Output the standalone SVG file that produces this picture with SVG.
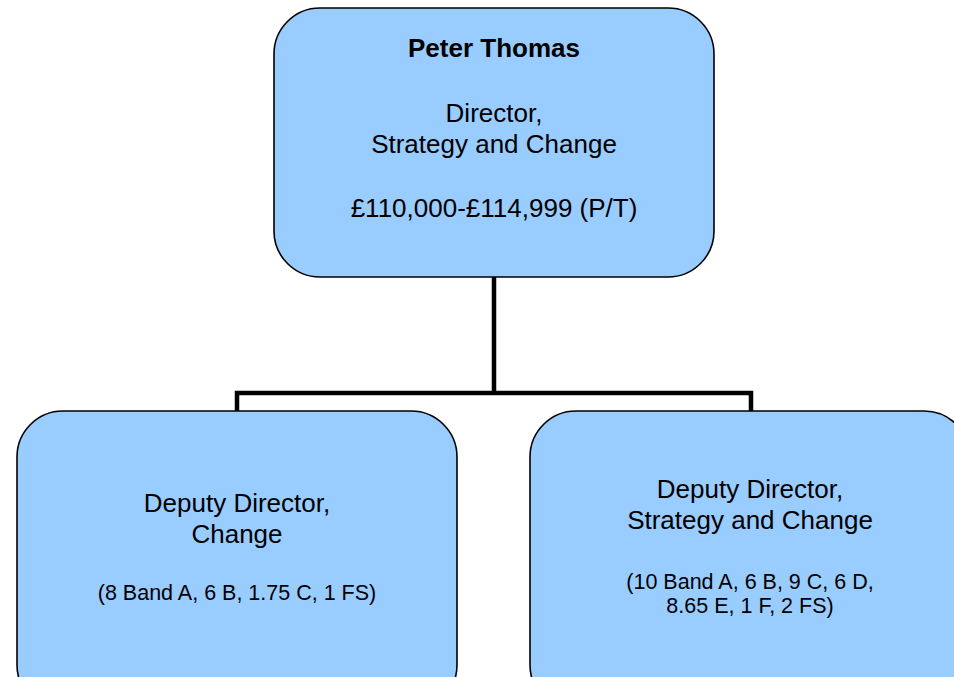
<svg xmlns="http://www.w3.org/2000/svg" width="954" height="677" viewBox="0 0 954 677">
  <style>
    .box { fill: #99CCFF; stroke: #000000; stroke-width: 1.6; }
    .t { font-family: "Liberation Sans", Arial, sans-serif; font-size: 26px; fill: #000000; text-anchor: middle; }
    .b { font-weight: bold; }
    .s { font-size: 21.5px; }
    .link { fill: none; stroke: #000000; stroke-width: 4.5; stroke-linejoin: miter; }
  </style>
  <rect width="954" height="677" fill="#ffffff"/>

  <!-- reporting lines -->
  <g id="connectors">
    <path class="link" d="M494 277 V393 M237 411 V393 H751 V411"/>
  </g>

  <!-- director -->
  <g id="director">
    <rect class="box" x="274" y="8" width="440" height="269" rx="46" ry="46"/>
    <text class="t b" x="494" y="57">Peter Thomas</text>
    <text class="t" x="494" y="122">Director,</text>
    <text class="t" x="494" y="153">Strategy and Change</text>
    <text class="t" x="494" y="217">£110,000-£114,999 (P/T)</text>
  </g>

  <!-- deputy director, change -->
  <g id="deputy-change">
    <rect class="box" x="17" y="411" width="440" height="300" rx="46" ry="46"/>
    <text class="t" x="237" y="512">Deputy Director,</text>
    <text class="t" x="237" y="543">Change</text>
    <text class="t s" x="237" y="600">(8 Band A, 6 B, 1.75 C, 1 FS)</text>
  </g>

  <!-- deputy director, strategy and change -->
  <g id="deputy-strategy">
    <rect class="box" x="530" y="411" width="440" height="300" rx="46" ry="46"/>
    <text class="t" x="750" y="498">Deputy Director,</text>
    <text class="t" x="750" y="529">Strategy and Change</text>
    <text class="t s" x="750" y="589">(10 Band A, 6 B, 9 C, 6 D,</text>
    <text class="t s" x="750" y="613">8.65 E, 1 F, 2 FS)</text>
  </g>
</svg>
